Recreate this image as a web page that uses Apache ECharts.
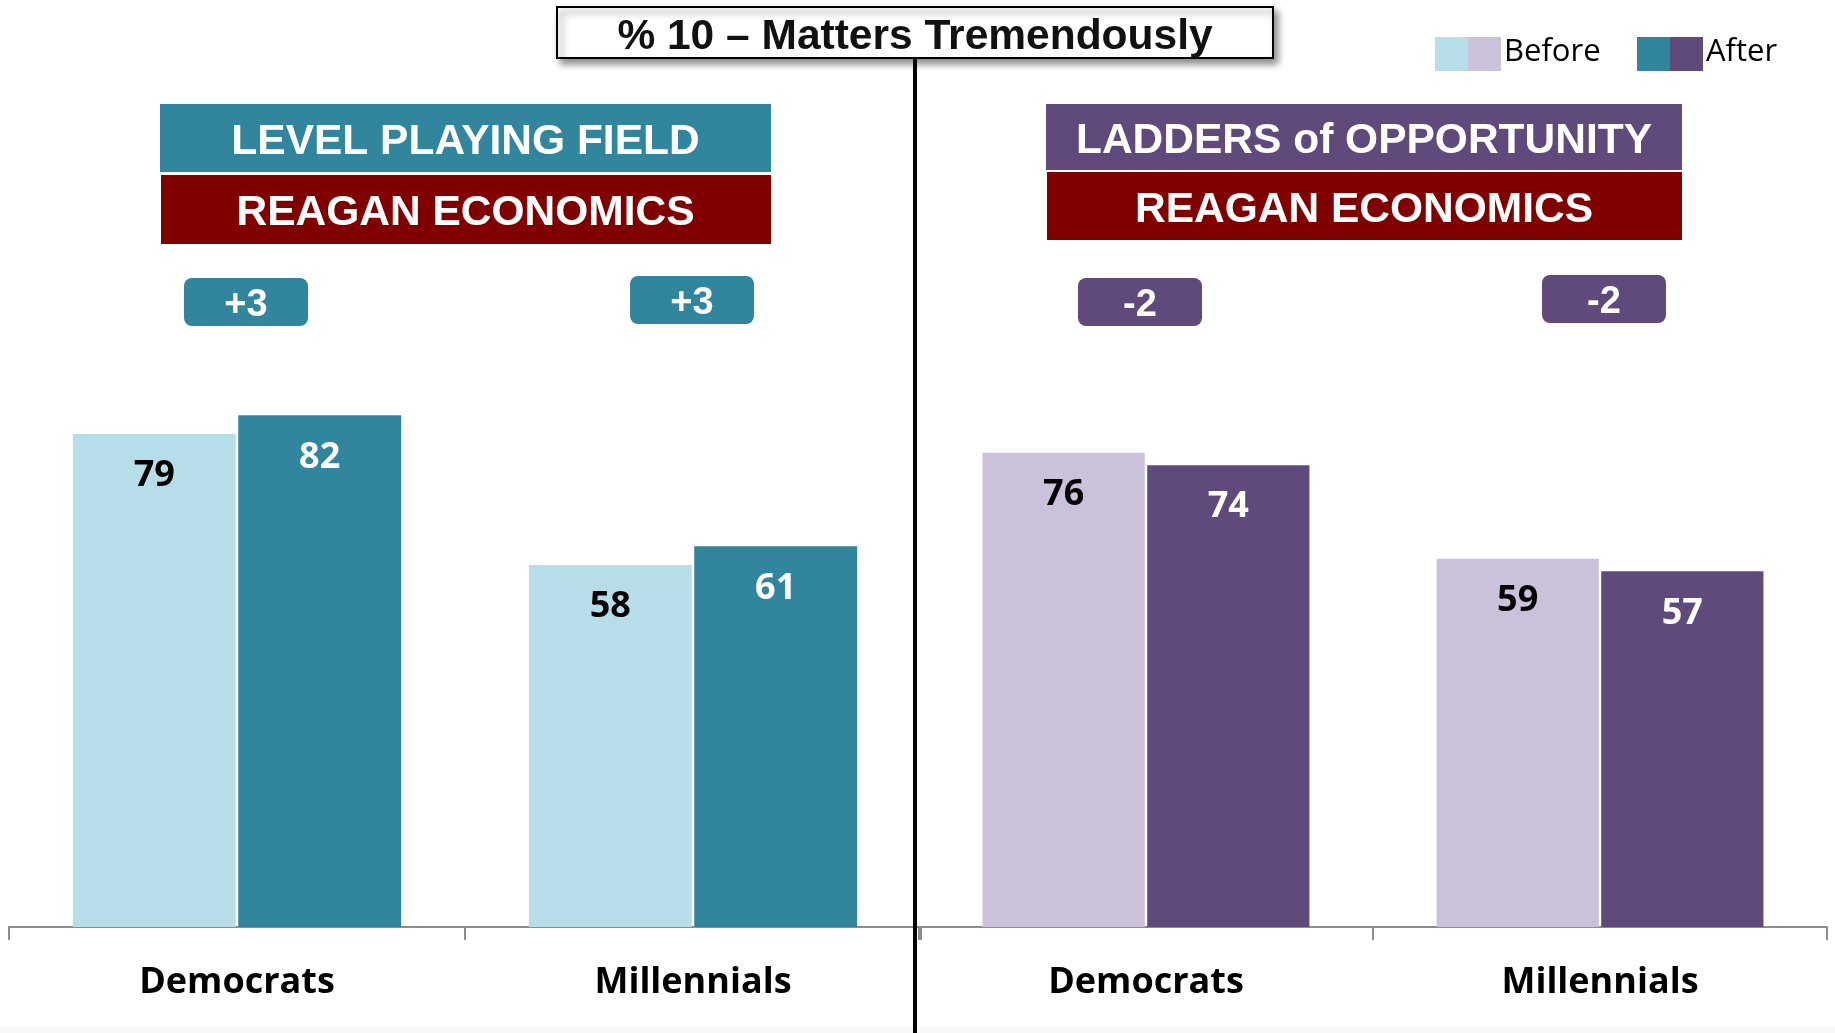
<!DOCTYPE html>
<html>
<head>
<meta charset="utf-8">
<title>% 10 – Matters Tremendously</title>
<script src="https://cdn.jsdelivr.net/npm/echarts@6/dist/echarts.min.js"></script>
<style>
  html, body { margin: 0; padding: 0; background: #ffffff; }
  #chart { width: 1835px; height: 1033px; }
</style>
</head>
<body>
<div id="chart"></div>
<script>
// Share rating "10 – matters tremendously", before and after each message
const categories = ['Democrats', 'Millennials'];
const levelBefore = [79, 58];    // Level Playing Field vs Reagan Economics
const levelAfter = [82, 61];
const laddersBefore = [76, 59];  // Ladders of Opportunity vs Reagan Economics
const laddersAfter = [74, 57];

const titleText = '% 10 – Matters Tremendously';
const leftHeader = ['LEVEL PLAYING FIELD', 'REAGAN ECONOMICS'];
const rightHeader = ['LADDERS of OPPORTUNITY', 'REAGAN ECONOMICS'];
const legendLabels = ['Before', 'After'];

const C = {
  tealLight: '#B7DDE8',
  teal: '#31859C',
  lavender: '#CCC1DA',
  purple: '#604A7B',
  maroon: '#800000',
  axis: '#8C8C8C'
};

const sans = '"Liberation Sans", Arial, sans-serif';
const humanist = '"Open Sans", "Noto Sans", sans-serif';

function signed(v) { return (v > 0 ? '+' : '') + v; }

const chart = echarts.init(document.getElementById('chart'), null, { renderer: 'canvas' });

function barSeries(name, data, xIdx, color, labelColor) {
  return {
    name: name,
    type: 'bar',
    xAxisIndex: xIdx,
    yAxisIndex: xIdx,
    data: data,
    barCategoryGap: '28%',
    barGap: '1.5%',
    itemStyle: { color: color },
    label: {
      show: true,
      position: 'insideTop',
      distance: 24,
      color: labelColor,
      fontFamily: humanist,
      fontWeight: 'bold',
      fontSize: 36
    },
    emphasis: { disabled: true },
    silent: true,
    animation: false
  };
}

function categoryAxis(gridIndex) {
  return {
    type: 'category',
    gridIndex: gridIndex,
    data: categories,
    axisLine: { show: true, lineStyle: { color: C.axis, width: 2 } },
    axisTick: { show: true, length: 13, lineStyle: { color: C.axis, width: 2 } },
    axisLabel: {
      color: '#000',
      fontFamily: humanist,
      fontWeight: 'bold',
      fontSize: 36,
      margin: 38
    }
  };
}

function valueAxis(gridIndex) {
  return { type: 'value', gridIndex: gridIndex, min: 0, max: 100, show: false };
}

// badge geometry: centre of each change badge, per panel/category
const badgeBoxes = [
  { x: 246, y: 302, fill: C.teal },
  { x: 692, y: 300, fill: C.teal },
  { x: 1140, y: 302, fill: C.purple },
  { x: 1604, y: 299, fill: C.purple }
];
const changes = [
  levelAfter[0] - levelBefore[0],
  levelAfter[1] - levelBefore[1],
  laddersAfter[0] - laddersBefore[0],
  laddersAfter[1] - laddersBefore[1]
];

const graphics = [];

// title box with drop shadow
graphics.push({
  type: 'rect', z: 20,
  shape: { x: 557, y: 7, width: 716, height: 51 },
  style: {
    fill: '#fff', stroke: '#000', lineWidth: 2,
    shadowBlur: 7, shadowOffsetX: 4, shadowOffsetY: 5, shadowColor: 'rgba(0,0,0,0.45)'
  }
});
graphics.push({
  type: 'text', z: 21,
  style: {
    text: titleText, x: 915, y: 37, textAlign: 'center', textVerticalAlign: 'middle',
    fill: '#111', font: 'bold 42.5px ' + sans
  }
});

// divider between the two panels
graphics.push({
  type: 'rect', z: 30,
  shape: { x: 913, y: 58, width: 4, height: 975 },
  style: { fill: '#000' }
});

// panel headers
function header(x, w, y1, h1, y2, h2, topFill, lines) {
  graphics.push({ type: 'rect', z: 5, shape: { x: x, y: y1, width: w, height: h1 }, style: { fill: topFill } });
  graphics.push({ type: 'rect', z: 5, shape: { x: x + 1, y: y2, width: w - 1, height: h2 }, style: { fill: C.maroon } });
  graphics.push({
    type: 'text', z: 6,
    style: { text: lines[0], x: x + w / 2, y: y1 + h1 / 2 + 4, textAlign: 'center', textVerticalAlign: 'middle', fill: '#fff', font: 'bold 42.5px ' + sans }
  });
  graphics.push({
    type: 'text', z: 6,
    style: { text: lines[1], x: x + w / 2, y: y2 + h2 / 2 + 4, textAlign: 'center', textVerticalAlign: 'middle', fill: '#fff', font: 'bold 42.5px ' + sans }
  });
}
header(160, 611, 104, 68, 175, 69, C.teal, leftHeader);
header(1046, 636, 104, 66, 172, 68, C.purple, rightHeader);

// change badges
badgeBoxes.forEach(function (b, i) {
  graphics.push({
    type: 'rect', z: 5,
    shape: { x: b.x - 62, y: b.y - 24, width: 124, height: 48, r: 8 },
    style: { fill: b.fill }
  });
  graphics.push({
    type: 'text', z: 6,
    style: { text: signed(changes[i]), x: b.x, y: b.y + 4, textAlign: 'center', textVerticalAlign: 'middle', fill: '#fff', font: 'bold 38px ' + sans }
  });
});

// legend: paired swatches for the two colour families
function legendItem(x, colA, colB, label) {
  graphics.push({ type: 'rect', z: 5, shape: { x: x, y: 37, width: 33, height: 34 }, style: { fill: colA } });
  graphics.push({ type: 'rect', z: 5, shape: { x: x + 33, y: 37, width: 33, height: 34 }, style: { fill: colB } });
  graphics.push({
    type: 'text', z: 6,
    style: { text: label, x: x + 69, y: 52, textAlign: 'left', textVerticalAlign: 'middle', fill: '#000', font: '31px ' + humanist }
  });
}
legendItem(1435, C.tealLight, C.lavender, legendLabels[0]);
legendItem(1637, C.teal, C.purple, legendLabels[1]);

// faint footer band
graphics.push({ type: 'rect', z: 1, shape: { x: 0, y: 1027, width: 1835, height: 6 }, style: { fill: '#F8F8F8' } });

chart.setOption({
  animation: false,
  backgroundColor: '#ffffff',
  grid: [
    { left: 9, width: 912, top: 303, bottom: 106 },
    { left: 919, width: 908, top: 303, bottom: 106 }
  ],
  xAxis: [categoryAxis(0), categoryAxis(1)],
  yAxis: [valueAxis(0), valueAxis(1)],
  series: [
    barSeries('Before', levelBefore, 0, C.tealLight, '#000'),
    barSeries('After', levelAfter, 0, C.teal, '#fff'),
    barSeries('Before', laddersBefore, 1, C.lavender, '#000'),
    barSeries('After', laddersAfter, 1, C.purple, '#fff')
  ],
  graphic: graphics
});
</script>
</body>
</html>
